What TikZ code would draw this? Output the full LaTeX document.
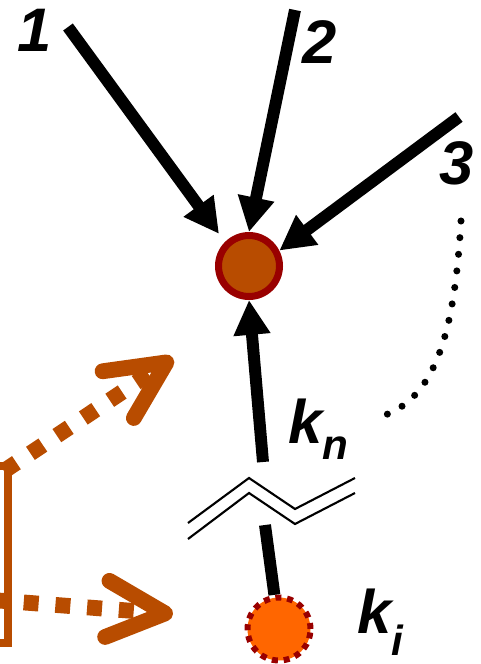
\documentclass[tikz,border=0pt]{standalone}
\usepackage{fontspec}
\setsansfont{Liberation Sans}
\usetikzlibrary{arrows.meta}
\definecolor{rust}{HTML}{B84C00}
\definecolor{darkred}{HTML}{990000}
\definecolor{brightorange}{HTML}{FF6600}

\begin{document}
\begin{tikzpicture}[x=0.02cm, y=-0.02cm,
  feed/.style={line width=6.8pt, -{Triangle[length=19.8pt, width=19.8pt]}},
  bond/.style={line width=1.2pt},
  leak/.style={rust, line width=9pt, dash pattern=on 8.5pt off 9.6pt,
    -{Straight Barb[length=33pt, width=32pt, line cap=round, line join=round]}},
  lbl/.style={font=\sffamily\bfseries\itshape\fontsize{35}{40}\selectfont, inner sep=0pt}]
  \useasboundingbox (0,0) rectangle (481,664);

  % pools
  \node[circle, draw=darkred, fill=rust, line width=4pt, minimum size=1.22cm] (hub) at (249,266) {};
  \node[circle, draw=darkred, fill=brightorange, line width=3.4pt,
    dash pattern=on 3.4pt off 3.3pt, minimum size=1.26cm] (ki) at (279,629) {};

  % incoming feeds
  \coordinate (s1) at (68,27);
  \coordinate (s2) at (295,10);
  \coordinate (s3) at (459,117);
  \coordinate (kn top) at (263,462);
  \coordinate (ki top) at (265,525);
  \draw[feed, shorten >=5.7pt] (s1) -- (hub.135);
  \draw[feed] (s2) -- (hub.north);
  \draw[feed] (s3) -- (hub.27);
  \draw[feed] (kn top) -- (hub.south);
  \draw[line width=6.8pt] (ki top) -- (ki);

  % break in the chain
  \draw[bond] (188,523) -- (249,478) -- (295,509) -- (355,478);
  \draw[bond] (188,539) -- (249,493) -- (295,524) -- (355,493);

  % dotted link
  \coordinate (d1) at (461,221);
  \coordinate (d2) at (379,417);
  \draw[line width=4pt, line cap=round, dash pattern=on 0pt off 9.5pt]
    (d1) .. controls (455,320) and (440,400) .. (d2);

  % side outputs
  \draw[rust, line width=4.5pt] (-30,466) rectangle (8,643);
  \coordinate (o1) at (4,471);
  \coordinate (t1) at (173,358);
  \coordinate (o2) at (-8,600);
  \coordinate (t2) at (173,614);
  \draw[leak] (o1) -- (t1);
  \draw[leak] (o2) -- (t2);

  % labels
  \node[lbl] (n1) at (35,30) {1};
  \node[lbl] (n2) at (320,42) {2};
  \node[lbl] (n3) at (457,163) {3};
  \node[lbl, anchor=base west] (kn) at (288,443)
    {k\raisebox{-9.6pt}{\fontsize{24}{24}\selectfont n}};
  \node[lbl, anchor=base west] (kilbl) at (357,633)
    {k\raisebox{-13pt}{\fontsize{24}{24}\selectfont i}};
\end{tikzpicture}
\end{document}
